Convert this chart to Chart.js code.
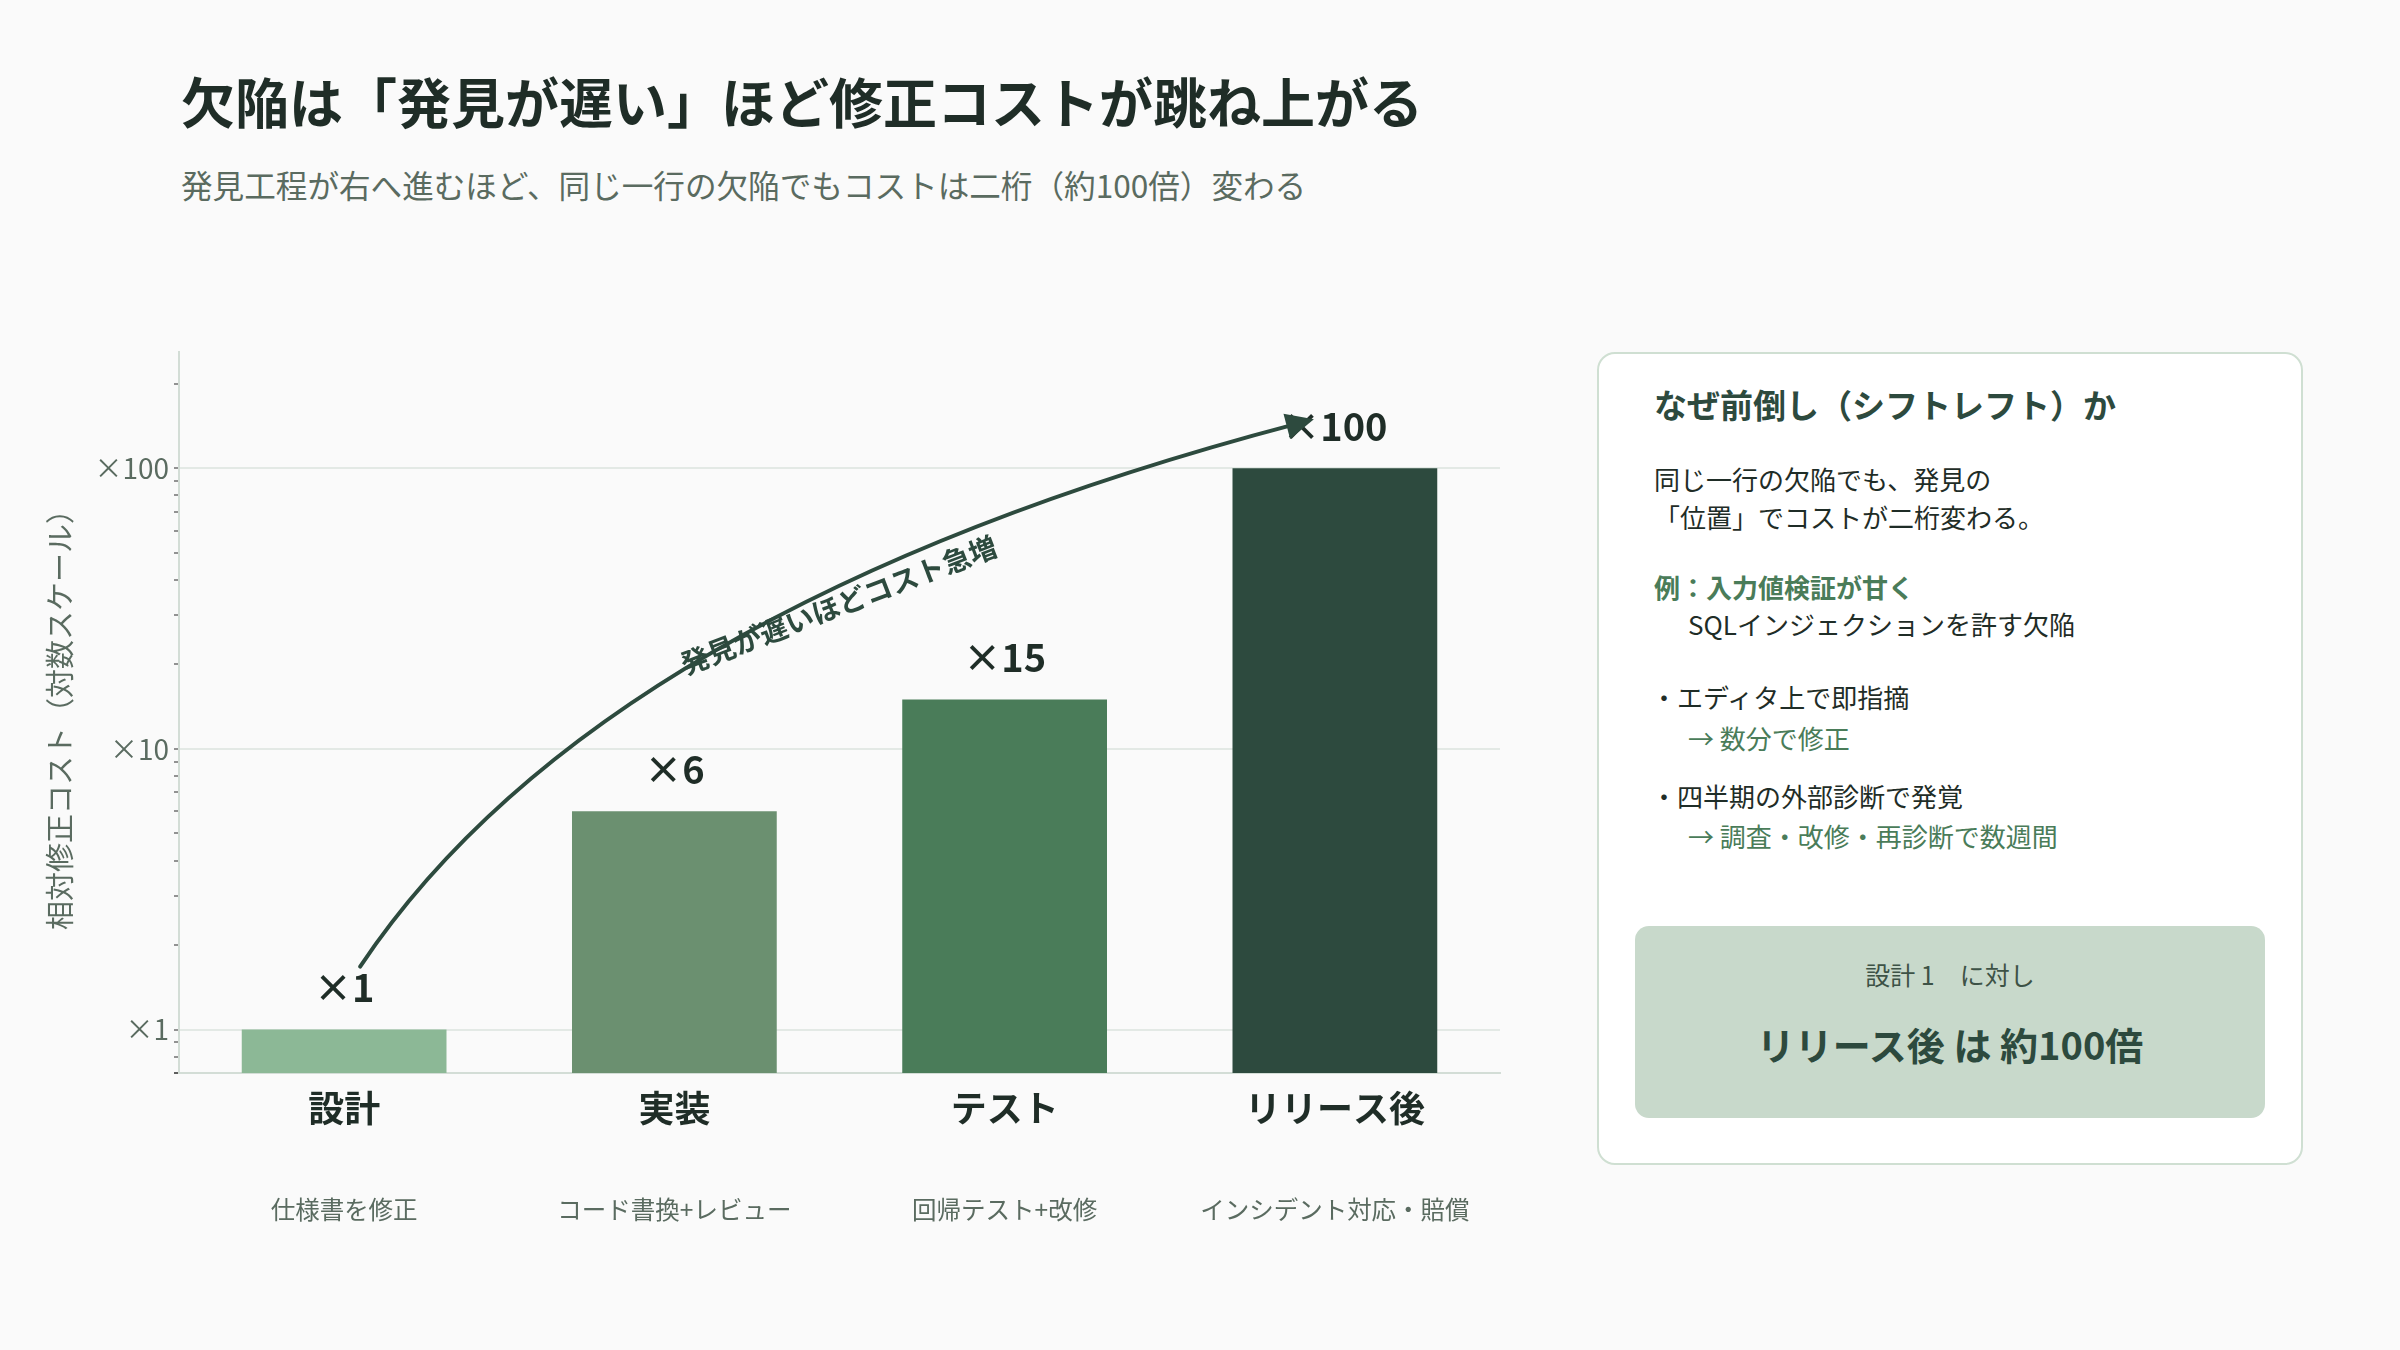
<!DOCTYPE html>
<html lang="ja">
<head>
<meta charset="utf-8">
<title>欠陥の発見工程と修正コスト</title>
<script src="https://cdn.jsdelivr.net/npm/chart.js@4.4.1/dist/chart.umd.min.js"></script>
<style>
  html, body { margin: 0; padding: 0; }
  body {
    width: 2400px; height: 1350px; position: relative; overflow: hidden;
    background: #fafafa;
    font-family: 'Noto Sans CJK JP', 'Noto Sans', sans-serif;
  }
  .title {
    position: absolute; left: 181px; top: 74px;
    font-size: 54px; font-weight: 700; line-height: 54px; color: #1f2d27;
    white-space: nowrap;
  }
  .subtitle {
    position: absolute; left: 181px; top: 168px;
    font-size: 31.6px; line-height: 32px; color: #5a6b60; white-space: nowrap;
  }
  #chartBox { position: absolute; left: 0; top: 330px; width: 1540px; height: 920px; }
  .panel {
    position: absolute; left: 1597px; top: 352px; width: 706px; height: 813px;
    box-sizing: border-box; border: 2px solid #cfdfd2; border-radius: 18px; background: #ffffff;
  }
  .panel .line { position: absolute; white-space: nowrap; line-height: 1; }
  .p-title { left: 55px; top: 34px; font-size: 33px; font-weight: 700; color: #2d4a3e; }
  .p-body { font-size: 26px; color: #1f2d27; }
  .p-green { font-size: 26px; color: #4a7c59; }
  .p-bold { font-weight: 700; }
  .summary {
    position: absolute; left: 36px; top: 572px; width: 630px; height: 192px;
    background: #c8d9cb; border-radius: 14px; text-align: center;
  }
  .summary .s1 { position: absolute; left: 0; right: 0; top: 36px; font-size: 25px; line-height: 1; color: #3d5246; }
  .summary .s2 { position: absolute; left: 0; right: 0; top: 99px; font-size: 38px; line-height: 1; font-weight: 700; color: #2d4a3e; }
</style>
</head>
<body>
<div class="title">欠陥は「発見が遅い」ほど修正コストが跳ね上がる</div>
<div class="subtitle">発見工程が右へ進むほど、同じ一行の欠陥でもコストは二桁（約100倍）変わる</div>

<div id="chartBox"><canvas id="costChart"></canvas></div>

<div class="panel">
  <div class="line p-title">なぜ前倒し（シフトレフト）か</div>
  <div class="line p-body" style="left:55px; top:112px;">同じ一行の欠陥でも、発見の</div>
  <div class="line p-body" style="left:55px; top:150px;">「位置」でコストが二桁変わる。</div>
  <div class="line p-green p-bold" style="left:55px; top:220px;">例：入力値検証が甘く</div>
  <div class="line p-body" style="left:89px; top:257px;">SQLインジェクションを許す欠陥</div>
  <div class="line p-body" style="left:52px; top:330px;">・エディタ上で即指摘</div>
  <div class="line p-green" style="left:89px; top:371px;">→ 数分で修正</div>
  <div class="line p-body" style="left:52px; top:429px;">・四半期の外部診断で発覚</div>
  <div class="line p-green" style="left:89px; top:469px;">→ 調査・改修・再診断で数週間</div>
  <div class="summary">
    <div class="s1">設計 1　に対し</div>
    <div class="s2">リリース後 は 約100倍</div>
  </div>
</div>

<script>
const FONT = "'Noto Sans CJK JP', 'Noto Sans', sans-serif";

// data
const stages = ['設計', '実装', 'テスト', 'リリース後'];
const stageNotes = ['仕様書を修正', 'コード書換+レビュー', '回帰テスト+改修', 'インシデント対応・賠償'];
const costMultipliers = [1, 6, 15, 100];
const majorTicks = [1, 10, 100];
const majorTickLabels = ['×1', '×10', '×100'];
const trendLabel = '発見が遅いほどコスト急増';

const barColors = ['#8cb896', '#6b9070', '#4a7c59', '#2d4a3e'];

Chart.defaults.font.family = FONT;

function majorIndex(v) {
  return majorTicks.findIndex(m => Math.abs(m - v) < 1e-9);
}

// "×n" above each bar
const valueLabels = {
  id: 'valueLabels',
  afterDatasetsDraw(chart) {
    const ctx = chart.ctx;
    const bars = chart.getDatasetMeta(0).data;
    ctx.save();
    ctx.font = 'bold 38px ' + FONT;
    ctx.fillStyle = '#1f2d27';
    ctx.textAlign = 'center';
    ctx.textBaseline = 'middle';
    bars.forEach((bar, i) => {
      ctx.fillText('×' + costMultipliers[i], bar.x, bar.y - 42);
    });
    ctx.restore();
  }
};

// curved arrow from first to last bar
const trendArrow = {
  id: 'trendArrow',
  afterDraw(chart) {
    const ctx = chart.ctx;
    const xs = chart.scales.x, ys = chart.scales.y;
    const x0 = xs.getPixelForValue(0), x1 = xs.getPixelForValue(1), x3 = xs.getPixelForValue(3);
    const p0 = { x: x0 + 16, y: ys.getPixelForValue(costMultipliers[0]) - 63 };
    const p2 = { x: x3 - 21, y: ys.getPixelForValue(costMultipliers[3]) - 49 };
    const c = { x: x0 + (x1 - x0) * 0.776, y: ys.getPixelForValue(32) };

    const ang = Math.atan2(p2.y - c.y, p2.x - c.x);
    const headLen = 28, headHalf = 13;
    const lineEnd = { x: p2.x - Math.cos(ang) * 18, y: p2.y - Math.sin(ang) * 18 };

    ctx.save();
    ctx.strokeStyle = '#2d4a3e';
    ctx.fillStyle = '#2d4a3e';
    ctx.lineWidth = 4;
    ctx.lineCap = 'round';
    ctx.beginPath();
    ctx.moveTo(p0.x, p0.y);
    ctx.quadraticCurveTo(c.x, c.y, lineEnd.x, lineEnd.y);
    ctx.stroke();

    ctx.beginPath();
    ctx.moveTo(p2.x, p2.y);
    ctx.lineTo(p2.x - headLen * Math.cos(ang) + headHalf * Math.sin(ang),
               p2.y - headLen * Math.sin(ang) - headHalf * Math.cos(ang));
    ctx.lineTo(p2.x - headLen * Math.cos(ang) - headHalf * Math.sin(ang),
               p2.y - headLen * Math.sin(ang) + headHalf * Math.cos(ang));
    ctx.closePath();
    ctx.fill();

    // label along the curve
    const t = 0.6;
    const px = (1 - t) * (1 - t) * p0.x + 2 * t * (1 - t) * c.x + t * t * p2.x;
    const py = (1 - t) * (1 - t) * p0.y + 2 * t * (1 - t) * c.y + t * t * p2.y;
    ctx.translate(px + 20, py + 8);
    ctx.rotate(-21 * Math.PI / 180);
    ctx.font = 'bold 28px ' + FONT;
    ctx.textAlign = 'center';
    ctx.textBaseline = 'middle';
    ctx.fillText(trendLabel, 0, 0);
    ctx.restore();
  }
};

const ctx = document.getElementById('costChart').getContext('2d');
new Chart(ctx, {
  type: 'bar',
  data: {
    labels: stages,
    datasets: [{
      data: costMultipliers,
      backgroundColor: barColors,
      borderWidth: 0,
      barPercentage: 0.62,
      categoryPercentage: 1.0,
      xAxisID: 'x',
      yAxisID: 'y'
    }]
  },
  options: {
    responsive: true,
    maintainAspectRatio: false,
    animation: false,
    layout: { padding: { top: 21, right: 40, bottom: 0, left: 0 } },
    plugins: {
      legend: { display: false },
      tooltip: { enabled: false }
    },
    scales: {
      x: {
        type: 'category',
        position: 'bottom',
        offset: true,
        grid: { display: false, drawTicks: false },
        border: { display: true, color: '#d3ddd6', width: 2 },
        ticks: { font: { size: 36, weight: 'bold' }, color: '#1f2d27', padding: 14 },
        afterFit(scale) { scale.height = 80; }
      },
      x2: {
        type: 'category',
        position: 'bottom',
        labels: stageNotes,
        offset: true,
        grid: { display: false, drawTicks: false },
        border: { display: false },
        ticks: { font: { size: 24.5 }, color: '#5a6b60', padding: 42 },
        afterFit(scale) { scale.height = 97; }
      },
      y: {
        type: 'logarithmic',
        min: 0.7,
        max: 260,
        afterBuildTicks(scale) {
          scale.ticks = scale.ticks.filter(t => {
            const p = Math.pow(10, Math.floor(Math.log10(t.value) + 1e-9));
            const s = t.value / p;
            return Math.abs(s - Math.round(s)) < 1e-6;
          });
        },
        afterFit(scale) { scale.width = 179; },
        grid: {
          color: c => majorIndex(c.tick.value) >= 0 ? '#e3e9e5' : 'rgba(0,0,0,0)',
          lineWidth: 2,
          tickColor: '#2a2a2a',
          tickLength: 5,
          tickWidth: 1
        },
        border: { display: true, color: '#d3ddd6', width: 2 },
        ticks: {
          autoSkip: false,
          padding: 5,
          font: { size: 28 },
          color: '#5a6b60',
          callback: v => {
            const i = majorIndex(v);
            return i >= 0 ? majorTickLabels[i] : '';
          }
        },
        title: {
          display: true,
          text: '相対修正コスト（対数スケール）',
          color: '#5a6b60',
          font: { size: 29 },
          padding: { top: 43, bottom: 0 }
        }
      }
    }
  },
  plugins: [valueLabels, trendArrow]
});
</script>
</body>
</html>
